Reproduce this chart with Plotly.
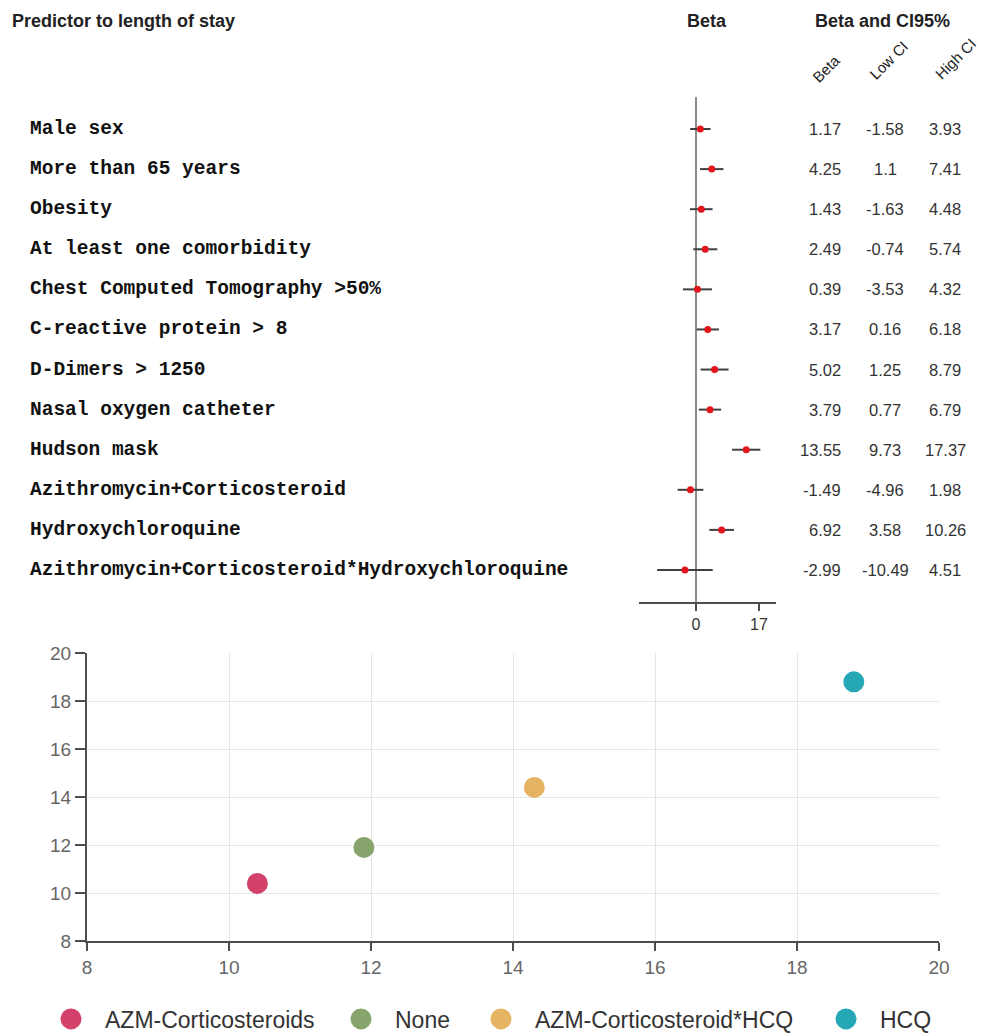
import plotly.graph_objects as go

W, H = 985, 1035

# Forest plot: predictors of length of stay (beta with 95% CI)
predictors = [
    "Male sex",
    "More than 65 years",
    "Obesity",
    "At least one comorbidity",
    "Chest Computed Tomography >50%",
    "C-reactive protein > 8",
    "D-Dimers > 1250",
    "Nasal oxygen catheter",
    "Hudson mask",
    "Azithromycin+Corticosteroid",
    "Hydroxychloroquine",
    "Azithromycin+Corticosteroid*Hydroxychloroquine",
]
beta = [1.17, 4.25, 1.43, 2.49, 0.39, 3.17, 5.02, 3.79, 13.55, -1.49, 6.92, -2.99]
low_ci = [-1.58, 1.1, -1.63, -0.74, -3.53, 0.16, 1.25, 0.77, 9.73, -4.96, 3.58, -10.49]
high_ci = [3.93, 7.41, 4.48, 5.74, 4.32, 6.18, 8.79, 6.79, 17.37, 1.98, 10.26, 4.51]
forest_ticks = [0, 17]
value_headers = ["Beta", "Low CI", "High CI"]

# Scatter: treatment groups
groups = ["AZM-Corticosteroids", "None", "AZM-Corticosteroid*HCQ", "HCQ"]
group_x = [10.4, 11.9, 14.3, 18.8]
group_y = [10.4, 11.9, 14.4, 18.8]
group_colors = ["#d3426b", "#87a56c", "#e4b463", "#25a8b6"]
scatter_ticks = [8, 10, 12, 14, 16, 18, 20]


def px_x(p):
    return p / W


def px_y(p):
    return 1 - p / H


rows = list(range(len(predictors)))
row_px0, row_step = 129, 40.09
forest_zero_px, forest_scale = 696, 63 / 17

fig = go.Figure()

# CI whiskers and point estimates
fig.add_trace(go.Scatter(
    x=beta, y=rows, mode="markers",
    marker=dict(color="rgba(0,0,0,0)", size=7),
    error_x=dict(type="data", symmetric=False,
                 array=[h - b for h, b in zip(high_ci, beta)],
                 arrayminus=[b - l for b, l in zip(beta, low_ci)],
                 color="#404040", thickness=2, width=0),
    xaxis="x2", yaxis="y2", showlegend=False, hoverinfo="skip",
))
fig.add_trace(go.Scatter(
    x=beta, y=rows, mode="markers",
    marker=dict(color="#e3141c", size=7),
    xaxis="x2", yaxis="y2", showlegend=False,
))

# Treatment group points, each with its own legend entry
legend_centers = [76, 366, 506, 851]
for i, (g, gx, gy, c) in enumerate(zip(groups, group_x, group_y, group_colors)):
    fig.add_trace(go.Scatter(
        x=[gx], y=[gy], mode="markers", name=g,
        marker=dict(color=c, size=16, line=dict(color=c, width=5)),
        legend="legend" if i == 0 else f"legend{i + 1}",
    ))

annotations = []
mono = dict(family="Liberation Mono", size=19.5, color="#111")
for r, name in zip(rows, predictors):
    annotations.append(dict(
        text=f"<b>{name}</b>", xref="paper", yref="y2", x=px_x(28), y=r,
        xanchor="left", yanchor="middle", showarrow=False, font=mono,
    ))

val_font = dict(family="Liberation Sans", size=16.5, color="#333")
for r, b, lo, hi in zip(rows, beta, low_ci, high_ci):
    annotations.append(dict(text=f"{b:g}", xref="paper", yref="y2", x=px_x(843), y=r,
                            xanchor="right", yanchor="middle", showarrow=False, font=val_font))
    annotations.append(dict(text=f"{lo:g}", xref="paper", yref="y2", x=px_x(885), y=r,
                            xanchor="center", yanchor="middle", showarrow=False, font=val_font))
    annotations.append(dict(text=f"{hi:g}", xref="paper", yref="y2", x=px_x(945), y=r,
                            xanchor="center", yanchor="middle", showarrow=False, font=val_font))

head_font = dict(family="Liberation Sans", size=18, color="#222")
annotations += [
    dict(text="<b>Predictor to length of stay</b>", xref="paper", yref="paper",
         x=px_x(10), y=px_y(21), xanchor="left", yanchor="middle", showarrow=False, font=head_font),
    dict(text="<b>Beta</b>", xref="paper", yref="paper",
         x=px_x(707), y=px_y(21), xanchor="center", yanchor="middle", showarrow=False, font=head_font),
    dict(text="<b>Beta and CI95%</b>", xref="paper", yref="paper",
         x=px_x(882), y=px_y(21), xanchor="center", yanchor="middle", showarrow=False, font=head_font),
]
for label, cx, cy in zip(value_headers, [826, 888, 956], [68, 60, 59]):
    annotations.append(dict(
        text=label, xref="paper", yref="paper", x=px_x(cx), y=px_y(cy),
        xanchor="center", yanchor="middle", textangle=-45, showarrow=False,
        font=dict(family="Liberation Sans", size=15, color="#222"),
    ))

legend_style = dict(
    orientation="h", yanchor="middle", xanchor="left", y=px_y(1019),
    font=dict(family="Liberation Sans", size=23, color="#333"),
    bgcolor="rgba(0,0,0,0)", itemwidth=58, itemsizing="trace",
)
legends = {}
for i, c in enumerate(legend_centers):
    key = "legend" if i == 0 else f"legend{i + 1}"
    legends[key] = dict(legend_style, x=px_x(c - 39))

axis_gray = "#4d4d4d"
fig.update_layout(
    width=W, height=H, margin=dict(l=0, r=0, t=0, b=0, autoexpand=False),
    paper_bgcolor="white", plot_bgcolor="white",
    font=dict(family="Liberation Sans", color="#333"),
    annotations=annotations,
    xaxis=dict(
        domain=[px_x(87), px_x(939)], range=[8, 20], tickvals=scatter_ticks,
        showgrid=True, gridcolor="#e6e6e6", gridwidth=1, zeroline=False,
        showline=True, linecolor=axis_gray, linewidth=2,
        ticks="outside", ticklen=8, tickwidth=2, tickcolor=axis_gray,
        tickfont=dict(family="Liberation Sans", size=19, color="#666"),
        anchor="y",
    ),
    yaxis=dict(
        domain=[px_y(941), px_y(653)], range=[8, 20], tickvals=scatter_ticks,
        showgrid=True, gridcolor="#e6e6e6", gridwidth=1, zeroline=False,
        showline=True, linecolor=axis_gray, linewidth=2,
        ticks="outside", ticklen=10, tickwidth=2, tickcolor=axis_gray,
        tickfont=dict(family="Liberation Sans", size=19, color="#666"),
        anchor="x",
    ),
    xaxis2=dict(
        domain=[px_x(639), px_x(776)],
        range=[(639 - forest_zero_px) / forest_scale, (776 - forest_zero_px) / forest_scale],
        tickvals=forest_ticks, showgrid=False,
        zeroline=True, zerolinecolor="#8a8a8a", zerolinewidth=2,
        showline=True, linecolor=axis_gray, linewidth=2,
        ticks="outside", ticklen=7, tickwidth=2, tickcolor=axis_gray,
        tickfont=dict(family="Liberation Sans", size=16, color="#333"),
        anchor="y2",
    ),
    yaxis2=dict(
        domain=[px_y(602), px_y(97)],
        range=[(602 - row_px0) / row_step, (97 - row_px0) / row_step],
        showgrid=False, zeroline=False, showline=False, showticklabels=False,
        ticks="", anchor="x2",
    ),
    **legends,
)

fig.write_html("out.html")
